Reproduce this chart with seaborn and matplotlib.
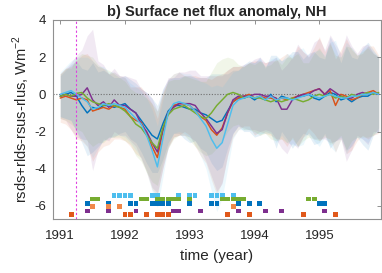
import numpy as np
import pandas as pd
import matplotlib
matplotlib.use("Agg")
import matplotlib.pyplot as plt
import seaborn as sns

# ---------------- data ----------------
months = np.arange(60)
time = 1991 + months / 12.0

series_names = ["blue", "orange", "purple", "green", "cyan"]
series_colors = ["#0072BD", "#D95319", "#7E2F8E", "#77AC30", "#4DBEEE"]

blue = [-0.1, 0.0, 0.1, -0.1, -0.6, -1.0, -0.7, -0.8, -0.6, -0.6,
        -0.7, -0.6, -0.5, -0.8, -1.0, -1.4, -1.8, -2.2, -2.4, -1.6,
        -0.9, -0.6, -0.6, -0.7, -0.8, -0.8, -1.0, -1.1, -1.3, -1.5,
        -1.4, -0.9, -0.4, -0.2, -0.2, -0.1, -0.3, -0.1, -0.3, 0.0,
        -0.4, -0.1, -0.2, -0.3, -0.1, -0.1, 0.0, -0.2, -0.3, -0.1,
        0.1, 0.0, -0.3, -0.2, -0.4, -0.2, -0.1, -0.1, 0.1, 0.0]
orange = [-0.2, -0.1, -0.2, -0.3, -0.2, -0.3, -0.9, -0.8, -0.7, -0.8,
          -0.6, -0.7, -0.8, -1.2, -1.4, -1.5, -2.1, -2.8, -3.4, -2.0,
          -1.0, -0.6, -0.5, -0.5, -0.6, -0.9, -1.2, -1.4, -1.9, -2.2,
          -1.8, -1.0, -0.4, -0.2, -0.1, 0.0, -0.2, -0.1, -0.2, -0.2,
          -0.3, -0.2, -0.3, -0.2, -0.1, 0.0, 0.1, 0.2, 0.3, 0.0,
          0.2, -0.6, 0.0, -0.1, -0.3, -0.2, 0.0, 0.1, 0.2, 0.0]
purple = [-0.1, 0.0, -0.1, -0.1, 0.0, 0.35, -0.3, -0.6, -0.4, -0.7,
          -0.3, -0.6, -0.6, -0.8, -1.0, -1.6, -2.0, -2.6, -3.1, -1.9,
          -1.0, -0.7, -0.5, -0.5, -0.5, -0.6, -1.0, -1.3, -1.7, -2.1,
          -1.9, -1.0, -0.3, -0.1, -0.1, -0.1, 0.0, 0.0, -0.1, -0.1,
          -0.2, -0.8, -0.8, -0.3, -0.1, 0.0, 0.0, 0.2, 0.3, 0.0,
          0.3, 0.1, -0.1, -0.2, -0.2, 0.0, 0.1, 0.0, 0.1, 0.0]
green = [-0.1, 0.0, -0.1, 0.05, 0.1, -0.2, -0.4, -0.5, -0.6, -0.5,
         -0.6, -0.7, -0.9, -1.2, -1.6, -1.8, -2.2, -2.6, -2.9, -1.8,
         -1.1, -0.8, -0.7, -0.6, -0.8, -1.0, -1.2, -1.3, -1.0, -0.6,
         -0.3, 0.0, 0.1, 0.0, -0.2, -0.1, -0.2, -0.2, -0.3, -0.4,
         -0.3, -0.4, -0.3, -0.2, -0.3, -0.4, -0.3, -0.1, 0.0, -0.1,
         0.0, -0.2, -0.1, -0.2, 0.0, -0.1, 0.0, 0.1, 0.0, 0.1]
cyan = [0.0, 0.1, 0.2, 0.0, -0.2, -0.4, -0.8, -0.7, -0.5, -0.6,
        -0.5, -0.6, -0.7, -1.0, -1.3, -1.6, -2.2, -3.0, -3.9, -2.4,
        -1.0, -0.5, -0.4, -0.5, -0.6, -0.9, -1.3, -1.7, -2.4, -2.9,
        -2.6, -1.6, -0.6, -0.3, -0.2, -0.1, -0.2, -0.1, -0.3, -0.1,
        -0.3, -0.2, -0.2, -0.3, -0.2, -0.1, 0.0, -0.1, -0.2, -0.1,
        0.0, -0.1, -0.2, -0.2, -0.1, -0.1, 0.0, 0.0, 0.1, 0.0]

spread_blue = [1.1, 1.3, 1.5, 1.9, 2.0, 2.3, 2.4, 2.0, 1.9, 1.7, 1.6, 1.5, 1.5, 1.6, 1.6,
               1.7, 1.9, 2.0, 1.8, 1.9, 1.7, 1.5, 1.5, 1.7, 1.8, 1.7, 1.9, 2.0, 2.4, 2.6,
               2.5, 2.0, 1.7, 1.5, 1.8, 1.9, 2.0, 2.1, 1.7, 2.1, 2.5, 1.9, 2.2, 2.6, 2.4,
               2.0, 2.2, 2.5, 2.3, 2.0, 3.0, 2.5, 2.0, 2.8, 2.4, 2.1, 2.6, 2.9, 2.3, 2.0]
spread_orange = [1.3, 1.5, 1.7, 2.1, 2.3, 2.5, 2.7, 2.3, 2.1, 1.9, 1.8, 1.7, 1.7, 1.6, 1.8,
                 1.9, 2.1, 2.3, 2.1, 2.0, 1.8, 1.7, 1.7, 1.5, 1.6, 1.9, 2.1, 2.3, 2.7, 3.2,
                 2.9, 2.3, 1.9, 1.7, 1.6, 1.7, 2.0, 1.9, 1.9, 2.0, 2.1, 2.2, 2.5, 2.1, 2.7,
                 2.3, 1.9, 2.3, 2.8, 2.3, 2.6, 2.5, 2.4, 3.1, 2.7, 2.3, 2.2, 2.5, 2.4, 2.1]
spread_purple = [1.2, 1.4, 1.8, 2.2, 2.4, 2.8, 3.8, 2.4, 2.0, 1.8, 1.7, 1.6, 1.6, 1.7, 1.8,
                 1.9, 2.1, 2.4, 2.2, 2.1, 1.9, 1.6, 1.7, 1.7, 1.8, 1.9, 2.0, 2.3, 2.7, 3.1,
                 2.9, 2.3, 1.8, 1.6, 1.7, 1.8, 1.9, 2.0, 1.8, 1.9, 2.2, 2.1, 2.4, 2.3, 2.8,
                 2.3, 2.1, 2.6, 2.7, 2.4, 2.9, 2.6, 2.3, 3.4, 2.8, 2.2, 2.5, 2.7, 2.1, 2.0]
spread_green = [1.2, 1.4, 1.5, 1.9, 2.1, 2.3, 2.4, 2.1, 2.0, 1.8, 1.7, 1.6, 1.6, 1.5, 1.7,
                1.8, 2.0, 2.1, 2.0, 1.9, 1.8, 1.6, 1.5, 1.6, 1.7, 1.8, 1.9, 2.0, 2.2, 2.3,
                2.2, 2.0, 1.8, 1.6, 1.7, 1.8, 1.8, 2.0, 1.8, 2.0, 2.2, 2.0, 2.3, 2.2, 2.5,
                2.1, 2.0, 2.3, 2.5, 2.1, 2.7, 2.3, 2.1, 2.8, 2.5, 2.2, 2.3, 2.4, 2.2, 1.9]
spread_cyan = [1.2, 1.4, 1.6, 2.0, 2.2, 2.4, 2.6, 2.2, 2.0, 1.8, 1.7, 1.6, 1.6, 1.6, 1.7,
               1.8, 2.0, 2.2, 2.2, 2.1, 1.8, 1.6, 1.6, 1.6, 1.7, 1.8, 2.0, 2.3, 2.8, 3.4,
               3.0, 2.4, 1.8, 1.6, 1.7, 1.8, 1.9, 2.0, 1.8, 2.0, 2.3, 2.0, 2.4, 2.4, 2.6,
               2.6, 2.0, 2.4, 2.6, 2.2, 2.8, 3.0, 2.2, 3.0, 2.6, 2.2, 2.4, 2.6, 2.2, 2.0]

# significance markers (time of each square) per row
sig_cyan = [1991.83, 1991.92, 1992.0, 1992.08, 1992.42, 1992.5, 1992.83, 1993.0,
            1993.08, 1993.33, 1993.42, 1993.5, 1993.67]
sig_green = [1991.5, 1991.58, 1992.25, 1992.33, 1992.5, 1992.58, 1992.67, 1992.75,
             1992.83, 1993.0, 1993.5, 1993.58, 1993.67, 1993.75, 1993.83, 1994.83, 1994.92]
sig_blue = [1991.42, 1991.75, 1992.08, 1992.17, 1992.42, 1992.5, 1992.58, 1992.67,
            1993.0, 1993.33, 1993.42, 1993.75, 1993.92, 1994.08, 1995.0, 1995.08]
sig_lorange = [1991.5, 1991.75, 1991.92, 1993.67]
sig_purple = [1991.42, 1991.75, 1992.17, 1992.75, 1992.83, 1993.17, 1993.75, 1994.17,
              1994.42, 1995.08]
sig_orange = [1991.17, 1992.0, 1992.08, 1992.33, 1992.5, 1992.58, 1992.67, 1993.58,
              1993.92, 1994.75, 1995.25]
sig_rows = [sig_cyan, sig_green, sig_blue, sig_lorange, sig_purple, sig_orange]
sig_levels = [-5.45, -5.63, -5.85, -6.05, -6.27, -6.48]
sig_colors = ["#4DBEEE", "#77AC30", "#0072BD", "#F0884A", "#7E2F8E", "#E0581A"]

eruption = 1991.25

xticks = [1991, 1992, 1993, 1994, 1995]
yticks = [-6, -4, -2, 0, 2, 4]

# ---------------- plot ----------------
sns.set_theme(style="white")
plt.rcParams["font.family"] = ["Liberation Sans", "DejaVu Sans"]
plt.rcParams["mathtext.fontset"] = "custom"
plt.rcParams["mathtext.rm"] = "Liberation Sans"

fig = plt.figure(figsize=(3.82, 2.73), dpi=100)
ax = fig.add_axes([0.139, 0.198, 0.858, 0.729])

lines = [blue, orange, purple, green, cyan]
spreads = [spread_blue, spread_orange, spread_purple, spread_green, spread_cyan]

for vals, spr, col in zip(lines, spreads, series_colors):
    v = np.array(vals)
    s = np.array(spr)
    ax.fill_between(time, v - s, v + s, color=col, alpha=0.1, linewidth=0)

long = pd.DataFrame({
    "time": np.tile(time, len(lines)),
    "value": np.concatenate([np.array(v) for v in lines]),
    "series": np.repeat(series_names, len(time)),
})
sns.lineplot(data=long, x="time", y="value", hue="series",
             palette=dict(zip(series_names, series_colors)),
             linewidth=1.05, legend=False, ax=ax)

sig_df = pd.DataFrame({
    "time": np.concatenate([np.array(r) for r in sig_rows]),
    "level": np.concatenate([[lv] * len(r) for r, lv in zip(sig_rows, sig_levels)]),
    "row": np.concatenate([[i] * len(r) for i, r in enumerate(sig_rows)]),
})
sns.scatterplot(data=sig_df, x="time", y="level", hue="row",
                palette=dict(enumerate(sig_colors)), marker="s", s=12,
                linewidth=0, legend=False, ax=ax, zorder=5)

ax.axhline(0, color="#707070", linestyle=(0, (1, 1.5)), linewidth=0.8, zorder=1)
ax.axvline(eruption, color="#E040E0", linestyle=(0, (2, 2)), linewidth=0.8)

ax.set_xlim(1990.89, 1995.95)
ax.set_ylim(-6.7, 4)
ax.set_xticks(xticks)
ax.set_xticklabels([str(t) for t in xticks])
ax.set_yticks(yticks)
ax.set_yticklabels([str(t) for t in yticks])
ax.tick_params(direction="in", length=3, width=0.6, colors="#808080",
               labelcolor="#262626", labelsize=9.5, top=True, right=True)
ax.tick_params(axis="x", pad=8)
ax.tick_params(axis="y", pad=5)
for sp in ax.spines.values():
    sp.set_visible(True)
    sp.set_color("#909090")
    sp.set_linewidth(0.8)

ax.set_xlabel("time (year)", fontsize=11, color="#262626", labelpad=5)
ax.set_ylabel("rsds+rlds-rsus-rlus, Wm$^{-2}$", fontsize=10.5, color="#262626", labelpad=2)
ax.set_title("b) Surface net flux anomaly, NH", fontsize=10.5, fontweight="bold",
             color="#262626", pad=3)

fig.savefig("out.png", dpi=100)
